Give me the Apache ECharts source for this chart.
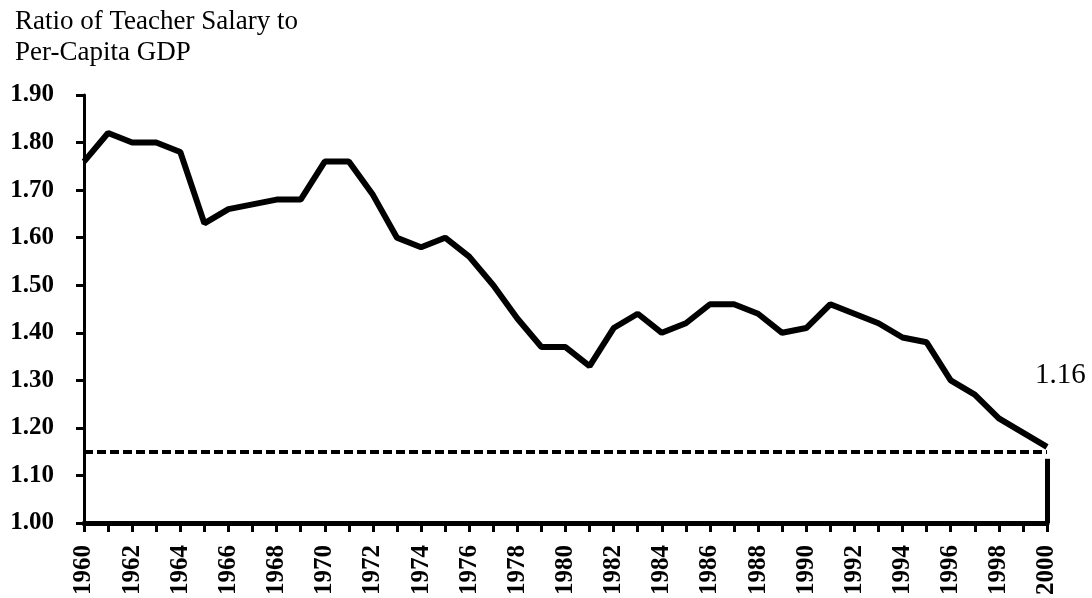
<!DOCTYPE html>
<html>
<head>
<meta charset="utf-8">
<script src="https://cdn.jsdelivr.net/npm/echarts@6/dist/echarts.min.js"></script>
<style>
  html, body { margin: 0; padding: 0; background: #fff; }
  #chart { width: 1092px; height: 598px; }
</style>
</head>
<body>
<div id="chart"></div>
<script>
// Years 1960..2000 and the ratio
const years = ['1960','1961','1962','1963','1964','1965','1966','1967','1968','1969',
  '1970','1971','1972','1973','1974','1975','1976','1977','1978','1979',
  '1980','1981','1982','1983','1984','1985','1986','1987','1988','1989',
  '1990','1991','1992','1993','1994','1995','1996','1997','1998','1999','2000']
const ratio = [1.76, 1.82, 1.80, 1.80, 1.78, 1.63, 1.66, 1.67, 1.68, 1.68,
  1.76, 1.76, 1.69, 1.60, 1.58, 1.60, 1.56, 1.50, 1.43, 1.37,
  1.37, 1.33, 1.41, 1.44, 1.40, 1.42, 1.46, 1.46, 1.44, 1.40,
  1.41, 1.46, 1.44, 1.42, 1.39, 1.38, 1.30, 1.27, 1.22, 1.19, 1.16]
const refLevel = 1.15
const endText = '1.16'

const serif = '"Liberation Serif", "DejaVu Serif", serif'
const lastIdx = ratio.length - 1

const chart = echarts.init(document.getElementById('chart'))
chart.setOption({
  animation: false,
  title: {
    text: 'Ratio of Teacher Salary to\nPer-Capita GDP',
    left: 10,
    top: 1,
    textStyle: { fontFamily: serif, fontSize: 27, fontWeight: 'normal', color: '#000', lineHeight: 31 },
  },
  grid: { left: 84, right: 45, top: 95, bottom: 74 },
  xAxis: {
    type: 'category',
    data: years,
    boundaryGap: false,
    axisLine: { lineStyle: { color: '#000', width: 5 } },
    axisTick: { interval: 0, length: 9, lineStyle: { color: '#000', width: 3 } },
    axisLabel: {
      interval: 1,
      rotate: 90,
      margin: 22,
      fontFamily: serif,
      fontSize: 25,
      fontWeight: 'bold',
      color: '#000',
    },
    splitLine: { show: false },
  },
  yAxis: {
    type: 'value',
    min: 1.0,
    max: 1.9,
    interval: 0.1,
    axisLine: { show: true, lineStyle: { color: '#000', width: 3 } },
    axisTick: { show: true, length: 8, lineStyle: { color: '#000', width: 3 } },
    axisLabel: {
      formatter: v => v.toFixed(2),
      margin: 30,
      fontFamily: serif,
      fontSize: 25,
      fontWeight: 'bold',
      color: '#000',
    },
    splitLine: { show: false },
  },
  series: [
    {
      type: 'line',
      data: ratio,
      showSymbol: false,
      symbol: 'none',
      lineStyle: { color: '#000', width: 6 },
      z: 5,
      endLabel: {
        show: true,
        formatter: endText,
        offset: [-20, -72],
        fontFamily: serif,
        fontSize: 29,
        color: '#000',
      },
      markLine: {
        silent: true,
        symbol: 'none',
        label: { show: false },
        data: [
          { yAxis: refLevel, lineStyle: { color: '#000', width: 4, type: [9, 4] } },
          [
            { coord: [years[lastIdx], refLevel - 0.015], lineStyle: { color: '#000', width: 5, type: 'solid' } },
            { coord: [years[lastIdx], 1.0] },
          ],
        ],
      },
    },
  ],
})
</script>
</body>
</html>
